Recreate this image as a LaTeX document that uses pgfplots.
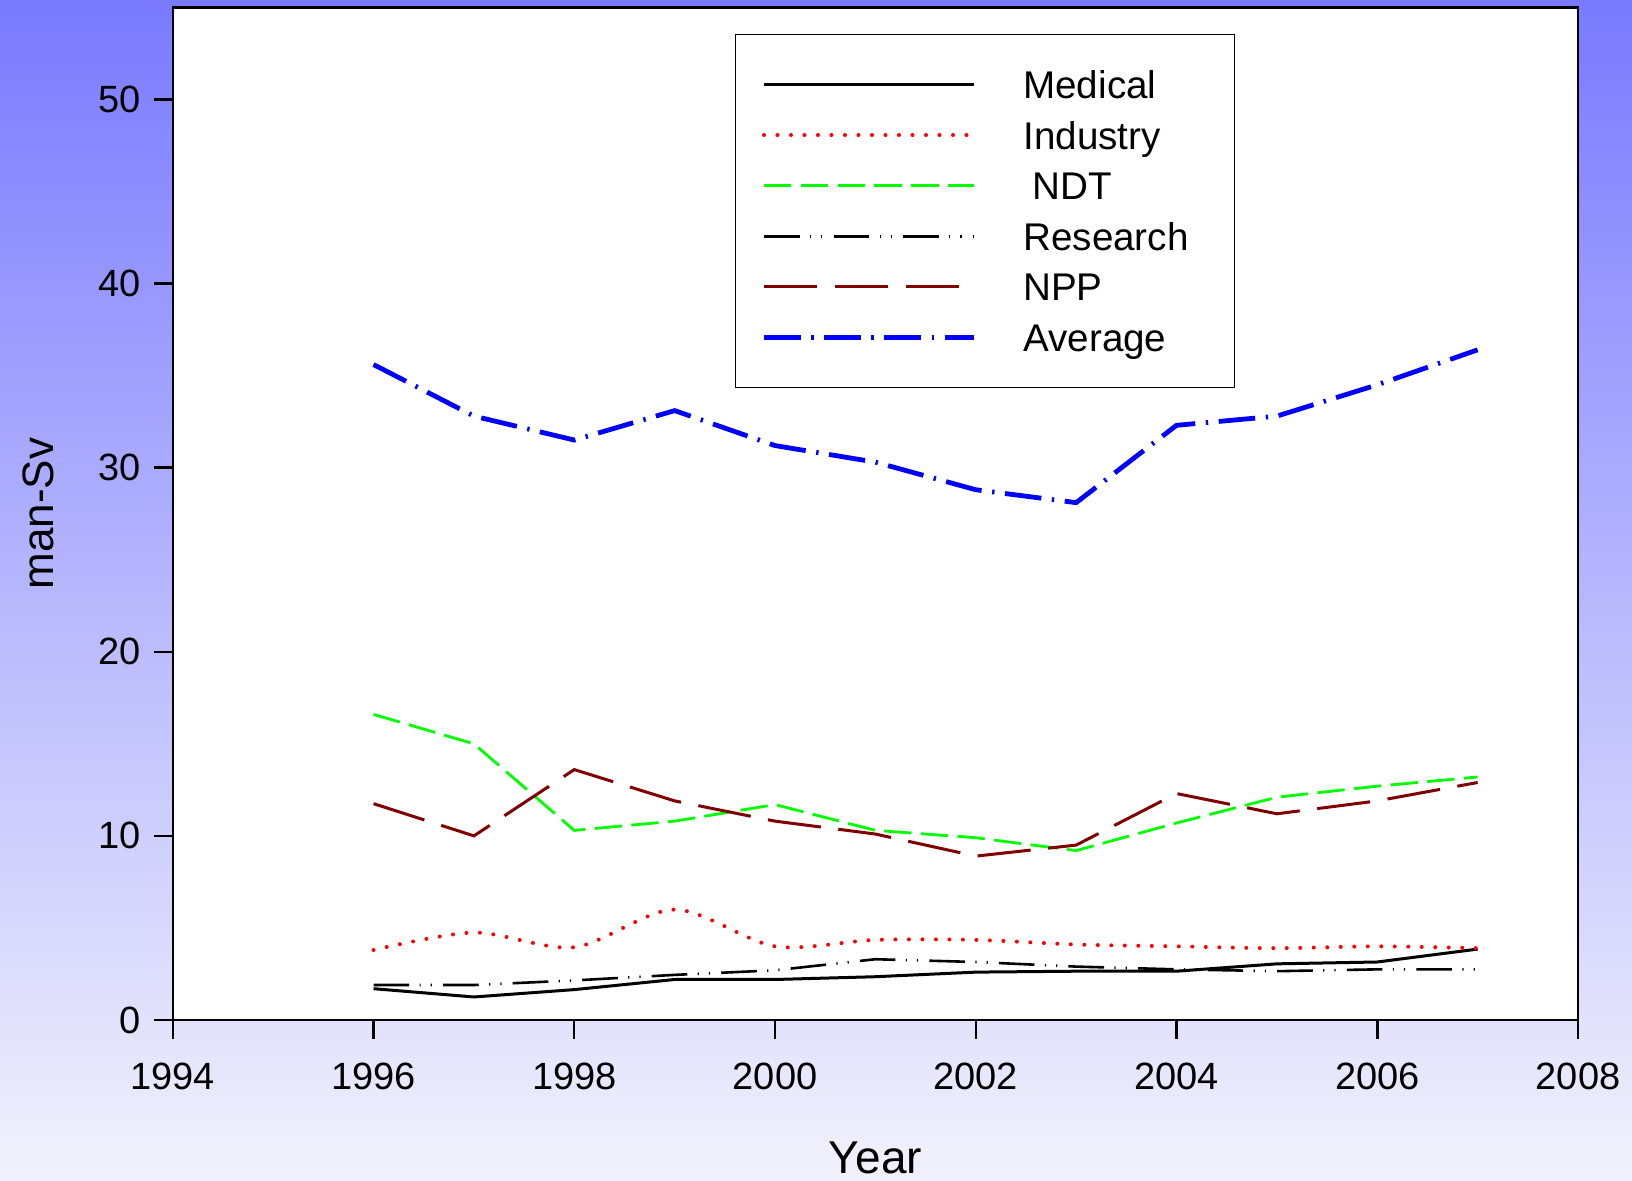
\documentclass[border=0pt]{standalone}
\usepackage{pgfplots}
\pgfplotsset{compat=1.18}
\usepackage{fontspec}
\setmainfont{Liberation Sans}
\definecolor{bgtop}{RGB}{122,122,255}
\definecolor{bgbot}{RGB}{242,242,252}
\definecolor{npp}{RGB}{128,0,0}
\definecolor{ndt}{RGB}{0,255,0}
\begin{document}
\begin{tikzpicture}
\shade[top color=bgtop, bottom color=bgbot] (0pt,0pt) rectangle (816pt,590.5pt);
\begin{axis}[
  at={(86.4pt,80.5pt)}, anchor=south west,
  scale only axis, width=702.6pt, height=506.3pt,
  xmin=1994, xmax=2008, ymin=0, ymax=55,
  xtick={1994,1996,...,2008}, ytick={0,10,...,50},
  xtick pos=left, ytick pos=left, tick align=outside,
  major tick length=9.4pt,
  axis line style={line width=1.2pt},
  every tick/.style={black, line width=1.2pt},
  axis background/.style={fill=white},
  /pgf/number format/1000 sep={},
  /pgf/number format/assume math mode=true,
  tick label style={font=\fontsize{19}{22}\selectfont},
  xticklabel style={yshift=-8.7pt},
  yticklabel style={xshift=-3pt},
  xlabel={Year},
  xlabel style={at={(axis description cs:0.5,0)}, anchor=base, yshift=-77pt, font=\fontsize{23}{26}\selectfont},
  ylabel={man-Sv},
  ylabel style={at={(axis description cs:-0.0954,0.5)}, anchor=center, font=\fontsize{22}{25}\selectfont},
  legend image code/.code={\draw[#1] (0pt,0pt) -- (105pt,0pt);},
  legend cell align=left,
  legend style={at={(axis description cs:0.4,0.974)}, anchor=north west,
    draw=black, line width=0.7pt, fill=white,
    inner xsep=13pt, inner ysep=16pt, column sep=23.5pt, row sep=7.3pt,
    nodes={inner sep=0pt, text height=16pt, text depth=2pt, font=\fontsize{19.3}{22}\selectfont}},
]
\addplot[black, line width=1.5pt] coordinates {
(1996,1.7) (1997,1.25) (1998,1.65) (1999,2.2) (2000,2.2) (2001,2.35) (2002,2.6) (2003,2.65) (2004,2.65) (2005,3.05) (2006,3.15) (2007,3.85)};
\addlegendentry{Medical}
\addplot[red, line width=2pt, line cap=round, dash pattern=on 0pt off 6.75pt, smooth, tension=0.5] coordinates {
(1996,3.8) (1997,4.75) (1998,3.95) (1999,6.0) (2000,4.0) (2001,4.35) (2002,4.35) (2003,4.1) (2004,4.0) (2005,3.9) (2006,4.0) (2007,3.9)};
\addlegendentry{Industry}
\addplot[ndt, line width=1.4pt, dash pattern=on 13.7pt off 4.7pt] coordinates {
(1996,16.6) (1997,15.0) (1998,10.3) (1999,10.8) (2000,11.7) (2001,10.3) (2002,9.9) (2003,9.2) (2004,10.7) (2005,12.1) (2006,12.7) (2007,13.2)};
\addlegendentry{\hspace{4.7pt}NDT}
\addplot[black, line width=1.3pt, dash pattern=on 17.8pt off 5.2pt on 0.6pt off 5pt on 0.6pt off 5.6pt] coordinates {
(1996,1.9) (1997,1.9) (1998,2.15) (1999,2.45) (2000,2.7) (2001,3.3) (2002,3.15) (2003,2.9) (2004,2.75) (2005,2.65) (2006,2.75) (2007,2.75)};
\addlegendentry{Research\kern10pt\null}
\addplot[npp, line width=1.5pt, dash pattern=on 26.7pt off 8.8pt] coordinates {
(1996,11.75) (1997,10.0) (1998,13.6) (1999,11.9) (2000,10.8) (2001,10.1) (2002,8.9) (2003,9.5) (2004,12.3) (2005,11.2) (2006,11.9) (2007,12.9)};
\addlegendentry{NPP}
\addplot[blue, line width=2.4pt, dash pattern=on 18.3pt off 5.3pt on 1.2pt off 5.3pt] coordinates {
(1996,35.6) (1997,32.8) (1998,31.5) (1999,33.1) (2000,31.2) (2001,30.3) (2002,28.8) (2003,28.1) (2004,32.3) (2005,32.8) (2006,34.5) (2007,36.4)};
\addlegendentry{Average}
\end{axis}
\pgfresetboundingbox
\path (0pt,0pt) rectangle (816pt,590.5pt);
\end{tikzpicture}
\end{document}
